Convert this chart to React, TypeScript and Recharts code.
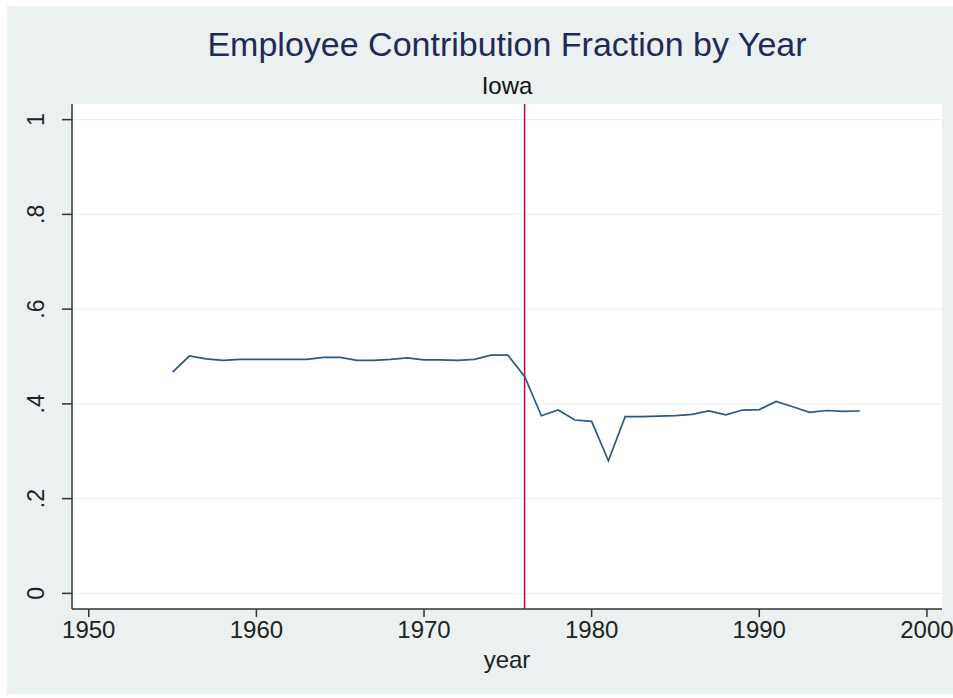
import { LineChart, Line, XAxis, YAxis, CartesianGrid, ReferenceLine } from "recharts";

const years = [
  1955, 1956, 1957, 1958, 1959, 1960, 1961, 1962, 1963, 1964, 1965, 1966, 1967, 1968,
  1969, 1970, 1971, 1972, 1973, 1974, 1975, 1976, 1977, 1978, 1979, 1980, 1981, 1982,
  1983, 1984, 1985, 1986, 1987, 1988, 1989, 1990, 1991, 1992, 1993, 1994, 1995, 1996,
];

const contribFraction = [
  0.467, 0.501, 0.495, 0.492, 0.494, 0.494, 0.494, 0.494, 0.494, 0.498, 0.498, 0.492, 0.492, 0.494,
  0.497, 0.493, 0.493, 0.492, 0.494, 0.503, 0.503, 0.458, 0.375, 0.387, 0.366, 0.363, 0.28, 0.373,
  0.373, 0.374, 0.375, 0.378, 0.385, 0.377, 0.387, 0.388, 0.405, 0.394, 0.382, 0.386, 0.384, 0.385,
];

const xTicks = [1950, 1960, 1970, 1980, 1990, 2000];
const yTicks = [0, 0.2, 0.4, 0.6, 0.8, 1];
const yTickLabels = ["0", ".2", ".4", ".6", ".8", "1"];
const policyYear = 1976;

const data = years.map((year, i) => ({ year, frac: contribFraction[i] }));

const FONT = "Arial, 'Liberation Sans', sans-serif";

function YTick(props: any) {
  const { x, y, payload } = props;
  const i = yTicks.indexOf(payload.value);
  return (
    <g transform={`translate(${x - 24}, ${y}) rotate(-90)`}>
      <text x={0} y={0} dy="0.35em" textAnchor="middle" fontSize={23} fill="#222" fontFamily={FONT}>
        {i >= 0 ? yTickLabels[i] : payload.value}
      </text>
    </g>
  );
}

export default function App() {
  return (
    <div style={{ position: "absolute", left: 0, top: 0, width: 953, height: 698, background: "#fff" }}>
      <div
        style={{
          position: "absolute",
          left: 7,
          top: 6,
          width: 946,
          height: 688,
          background: "#eaf1f0",
        }}
      />
      <div
        style={{
          position: "absolute",
          left: 72,
          width: 870,
          top: 24,
          textAlign: "center",
          fontFamily: FONT,
          fontSize: 34,
          color: "#1f2b55",
          lineHeight: "40px",
        }}
      >
        Employee Contribution Fraction by Year
      </div>
      <div
        style={{
          position: "absolute",
          left: 72,
          width: 870,
          top: 71,
          textAlign: "center",
          fontFamily: FONT,
          fontSize: 24,
          color: "#111",
          lineHeight: "30px",
        }}
      >
        Iowa
      </div>
      <div
        style={{
          position: "absolute",
          left: 72,
          width: 870,
          top: 645,
          textAlign: "center",
          fontFamily: FONT,
          fontSize: 24,
          color: "#222",
          lineHeight: "30px",
        }}
      >
        year
      </div>
      <div style={{ position: "absolute", left: 0, top: 0 }}>
        <LineChart width={953} height={698} data={data} margin={{ top: 104, right: 11, bottom: 29, left: 12 }}>
          <CartesianGrid fill="#ffffff" stroke="#e6eeee" vertical={false} horizontalValues={yTicks} />
          <XAxis
            dataKey="year"
            type="number"
            domain={[1949, 2000.9]}
            ticks={xTicks}
            allowDataOverflow
            height={60}
            tickSize={8}
            tickMargin={4}
            stroke="#333"
            strokeWidth={1.5}
            tick={{ fontSize: 24, fill: "#222", fontFamily: FONT }}
          />
          <YAxis
            type="number"
            domain={[-0.033, 1.033]}
            ticks={yTicks}
            allowDataOverflow
            width={60}
            tickSize={10}
            tickMargin={2}
            stroke="#333"
            strokeWidth={1.5}
            tick={<YTick />}
          />
          <ReferenceLine x={policyYear} stroke="#c10534" strokeWidth={1.5} />
          <Line
            type="linear"
            dataKey="frac"
            stroke="#2c5985"
            strokeWidth={1.7}
            dot={false}
            isAnimationActive={false}
          />
        </LineChart>
      </div>
    </div>
  );
}
